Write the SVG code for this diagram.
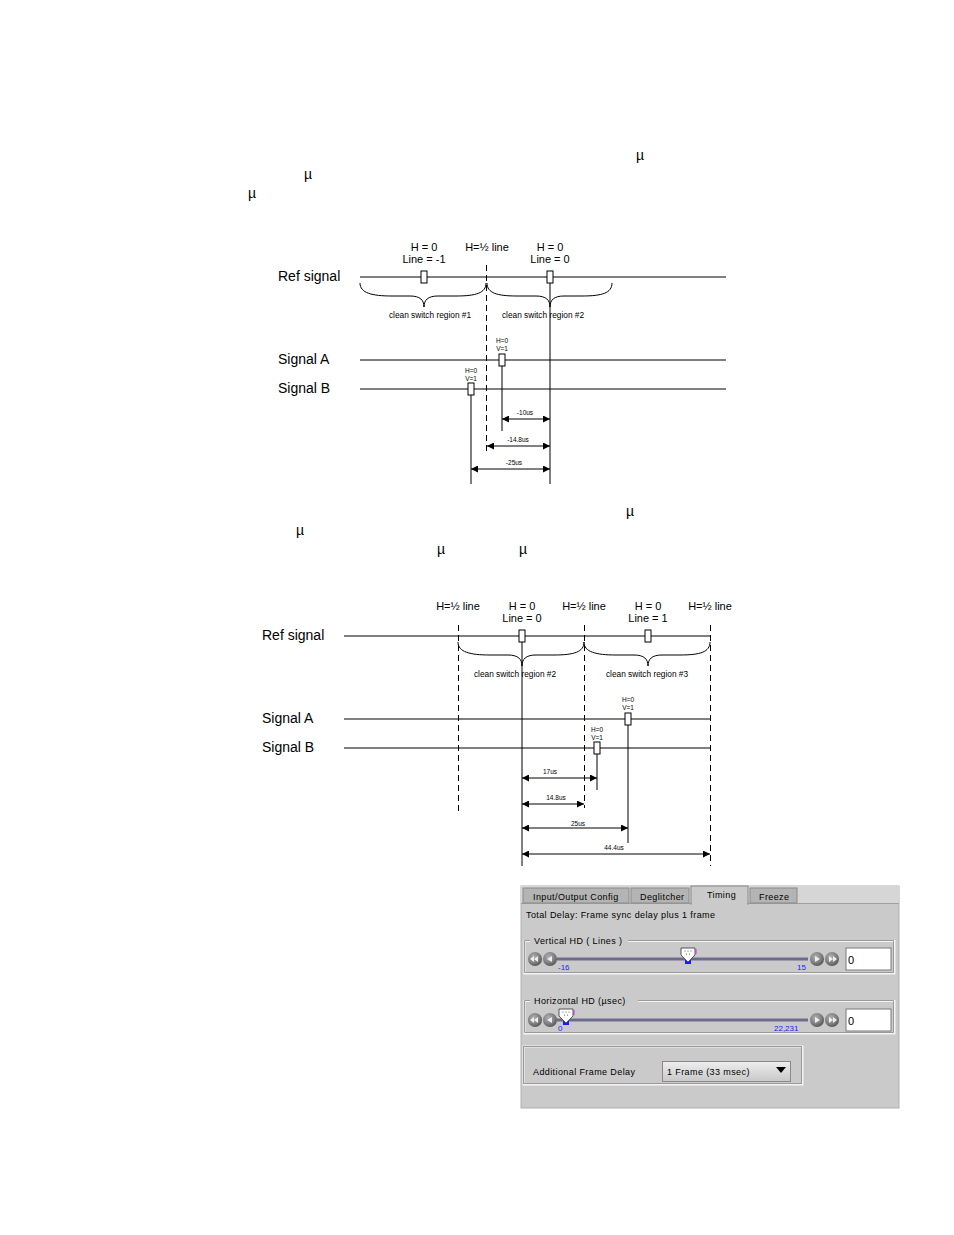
<svg xmlns="http://www.w3.org/2000/svg" width="954" height="1235" viewBox="0 0 954 1235">
<defs>
<marker id="ah" viewBox="0 0 10 10" refX="10" refY="5" markerWidth="9" markerHeight="7" markerUnits="userSpaceOnUse" orient="auto-start-reverse"><path d="M0,0 L10,5 L0,10 Z" fill="#000"/></marker>
<radialGradient id="btn" cx="0.4" cy="0.35" r="0.7"><stop offset="0" stop-color="#b0b0b0"/><stop offset="0.6" stop-color="#808080"/><stop offset="1" stop-color="#505050"/></radialGradient>
<linearGradient id="dd" x1="0" y1="0" x2="0" y2="1"><stop offset="0" stop-color="#eeeeee"/><stop offset="1" stop-color="#c8c8c8"/></linearGradient>
</defs>
<style>
.lbl{font-family:"Liberation Sans",Arial,sans-serif;font-size:14px;fill:#000}
.hd{font-family:"Liberation Sans",Arial,sans-serif;font-size:11px;fill:#000;text-anchor:middle}
.sm{font-family:"Liberation Sans",Arial,sans-serif;font-size:6.5px;fill:#000;text-anchor:middle}
.cs{font-family:"Liberation Sans",Arial,sans-serif;font-size:8.3px;fill:#000;text-anchor:middle}
.mu{font-family:"Liberation Sans",Arial,sans-serif;font-size:14px;fill:#000}
.ln{stroke:#000;stroke-width:1;fill:none}
.ds{stroke:#000;stroke-width:1;fill:none;stroke-dasharray:6,4}
.br{stroke:#000;stroke-width:1;fill:none}
.bx{fill:#fff;stroke:#000;stroke-width:1}
.ar{stroke:#000;stroke-width:1;fill:none;marker-start:url(#ah);marker-end:url(#ah)}
.ui{font-family:"Liberation Sans",Arial,sans-serif;font-size:9px;fill:#000;letter-spacing:0.4px}
.bl{font-family:"Liberation Sans",Arial,sans-serif;font-size:8px;fill:#1a1aff}
</style>
<rect width="954" height="1235" fill="#fff"/>

<g id="mu-symbols">
<text class="mu" x="636" y="160">µ</text>
<text class="mu" x="304" y="179">µ</text>
<text class="mu" x="248" y="198">µ</text>
<text class="mu" x="626" y="516">µ</text>
<text class="mu" x="296" y="535">µ</text>
<text class="mu" x="437" y="554">µ</text>
<text class="mu" x="519" y="554">µ</text>
</g>

<!-- Diagram 1 -->
<g id="d1-ref">
<text class="lbl" x="278" y="281">Ref signal</text>
<line class="ln" x1="360" y1="277" x2="726" y2="277"/>
<rect class="bx" x="421" y="271" width="6" height="12"/>
<rect class="bx" x="547" y="271" width="6" height="12"/>
<text class="hd" x="424" y="251">H = 0</text>
<text class="hd" x="424" y="263">Line = -1</text>
<text class="hd" x="487" y="251">H=½ line</text>
<text class="hd" x="550" y="251">H = 0</text>
<text class="hd" x="550" y="263">Line = 0</text>
</g>
<g id="d1-braces">
<path class="br" d="M360,283 C360,293 372,296 392,296 L410,296 C420,296 424,300 424,307 C424,300 428,296 438,296 L456,296 C476,296 486,293 486,283"/>
<path class="br" d="M487,283 C487,293 497,296 517,296 L536,296 C546,296 550,300 550,307 C550,300 554,296 564,296 L582,296 C602,296 612,293 612,283"/>
<text class="cs" x="430" y="318">clean switch region #1</text>
<text class="cs" x="543" y="318">clean switch region #2</text>
</g>
<g id="d1-sigA">
<text class="lbl" x="278" y="364">Signal A</text>
<line class="ln" x1="360" y1="360" x2="726" y2="360"/>
<rect class="bx" x="499" y="354" width="6" height="12"/>
<text class="sm" x="502" y="343">H=0</text>
<text class="sm" x="502" y="351">V=1</text>
</g>
<g id="d1-sigB">
<text class="lbl" x="278" y="393">Signal B</text>
<line class="ln" x1="360" y1="389" x2="726" y2="389"/>
<rect class="bx" x="468" y="383" width="6" height="12"/>
<text class="sm" x="471" y="373">H=0</text>
<text class="sm" x="471" y="381">V=1</text>
</g>
<g id="d1-connectors">
<line class="ds" x1="486.5" y1="265" x2="486.5" y2="455"/>
<line class="ln" x1="550" y1="283" x2="550" y2="484"/>
<line class="ln" x1="502" y1="366" x2="502" y2="431"/>
<line class="ln" x1="471" y1="395" x2="471" y2="484"/>
<line class="ar" x1="502" y1="419" x2="550" y2="419"/>
<line class="ar" x1="487" y1="446" x2="550" y2="446"/>
<line class="ar" x1="471" y1="469" x2="550" y2="469"/>
<text class="sm" x="525" y="415">-10us</text>
<text class="sm" x="518" y="442">-14.8us</text>
<text class="sm" x="514" y="465">-25us</text>
</g>

<!-- Diagram 2 -->
<g id="d2-ref">
<text class="lbl" x="262" y="640">Ref signal</text>
<line class="ln" x1="344" y1="636" x2="710" y2="636"/>
<rect class="bx" x="519" y="630" width="6" height="12"/>
<rect class="bx" x="645" y="630" width="6" height="12"/>
<text class="hd" x="458" y="610">H=½ line</text>
<text class="hd" x="522" y="610">H = 0</text>
<text class="hd" x="522" y="622">Line = 0</text>
<text class="hd" x="584" y="610">H=½ line</text>
<text class="hd" x="648" y="610">H = 0</text>
<text class="hd" x="648" y="622">Line = 1</text>
<text class="hd" x="710" y="610">H=½ line</text>
</g>
<g id="d2-braces">
<path class="br" d="M458,642 C458,652 470,655 490,655 L508,655 C518,655 522,659 522,666 C522,659 526,655 536,655 L554,655 C574,655 584,652 584,642"/>
<path class="br" d="M584,642 C584,652 596,655 616,655 L634,655 C644,655 648,659 648,666 C648,659 652,655 662,655 L680,655 C700,655 710,652 710,642"/>
<text class="cs" x="515" y="677">clean switch region #2</text>
<text class="cs" x="647" y="677">clean switch region #3</text>
</g>
<g id="d2-sigA">
<text class="lbl" x="262" y="723">Signal A</text>
<line class="ln" x1="344" y1="719" x2="710" y2="719"/>
<rect class="bx" x="625" y="713" width="6" height="12"/>
<text class="sm" x="628" y="702">H=0</text>
<text class="sm" x="628" y="710">V=1</text>
</g>
<g id="d2-sigB">
<text class="lbl" x="262" y="752">Signal B</text>
<line class="ln" x1="344" y1="748" x2="710" y2="748"/>
<rect class="bx" x="594" y="742" width="6" height="12"/>
<text class="sm" x="597" y="732">H=0</text>
<text class="sm" x="597" y="740">V=1</text>
</g>
<g id="d2-connectors">
<line class="ds" x1="458.5" y1="625" x2="458.5" y2="813"/>
<line class="ds" x1="584.5" y1="625" x2="584.5" y2="808"/>
<line class="ds" x1="710.5" y1="625" x2="710.5" y2="866"/>
<line class="ln" x1="522" y1="642" x2="522" y2="866"/>
<line class="ln" x1="597" y1="754" x2="597" y2="790"/>
<line class="ln" x1="628" y1="725" x2="628" y2="843"/>
<line class="ar" x1="522" y1="778" x2="597" y2="778"/>
<line class="ar" x1="522" y1="804" x2="584" y2="804"/>
<line class="ar" x1="522" y1="828" x2="628" y2="828"/>
<line class="ar" x1="522" y1="854" x2="710" y2="854"/>
<text class="sm" x="550" y="774">17us</text>
<text class="sm" x="556" y="800">14.8us</text>
<text class="sm" x="578" y="826">25us</text>
<text class="sm" x="614" y="850">44.4us</text>
</g>

<!-- Panel screenshot -->
<g id="panel">
<rect x="521" y="886" width="378" height="222" fill="#cacaca" stroke="#b0b0b0"/>
<rect x="521" y="886" width="378" height="17" fill="#d6d6d6"/>
<line x1="521" y1="903.5" x2="899" y2="903.5" stroke="#a0a0a0"/>
<g id="tab-io"><rect x="523" y="888" width="106" height="15" fill="#b4b4b4" stroke="#8a8a8a"/><text class="ui" x="533" y="900">Input/Output Config</text></g>
<g id="tab-deg"><rect x="631" y="888" width="58" height="15" fill="#b4b4b4" stroke="#8a8a8a"/><text class="ui" x="640" y="900">Deglitcher</text></g>
<g id="tab-timing"><rect x="691" y="886" width="57" height="18" fill="#cacaca" stroke="#8a8a8a"/><rect x="692" y="902" width="55" height="3" fill="#cacaca"/><text class="ui" x="707" y="898">Timing</text></g>
<g id="tab-freeze"><rect x="750" y="888" width="47" height="15" fill="#b4b4b4" stroke="#8a8a8a"/><text class="ui" x="759" y="900">Freeze</text></g>
<text class="ui" x="526" y="918" font-size="8.5">Total Delay: Frame sync delay plus 1 frame</text>

<g id="vert-group">
<path d="M530,941 L524.5,941 L524.5,973.5 L894.5,973.5 L894.5,941 L628,941" fill="none" stroke="#f4f4f4" stroke-width="2"/>
<path d="M530,940.5 L524.5,940.5 L524.5,972.5 L893.5,972.5 L893.5,940.5 L628,940.5" fill="none" stroke="#9a9a9a"/>
<text class="ui" x="534" y="944">Vertical HD ( Lines )</text>
<circle cx="535" cy="959" r="7" fill="url(#btn)"/><path d="M538,956 L534,959 L538,962 Z M534,956 L530,959 L534,962 Z" fill="#eee"/>
<circle cx="550" cy="959" r="7" fill="url(#btn)"/><path d="M552,956 L547,959 L552,962 Z" fill="#eee"/>
<rect x="557" y="957.5" width="251" height="3" fill="#6c6c8c"/>
<text class="bl" x="558" y="970">-16</text>
<text class="bl" x="797" y="970">15</text>
<rect x="685" y="958" width="6" height="6" fill="#1a1aff"/>
<path d="M681,948 L695,948 L695,955 L688,962 L681,955 Z" fill="#fff" stroke="#555"/>
<circle cx="685" cy="951" r="0.6" fill="#555"/><circle cx="688" cy="951" r="0.6" fill="#555"/><circle cx="691" cy="951" r="0.6" fill="#555"/><circle cx="686.5" cy="954" r="0.6" fill="#555"/><circle cx="689.5" cy="954" r="0.6" fill="#555"/>
<line x1="696" y1="949" x2="696" y2="954" stroke="#e020e0"/>
<circle cx="817" cy="959" r="7" fill="url(#btn)"/><path d="M815,956 L820,959 L815,962 Z" fill="#eee"/>
<circle cx="832" cy="959" r="7" fill="url(#btn)"/><path d="M829,956 L833,959 L829,962 Z M833,956 L837,959 L833,962 Z" fill="#eee"/>
<rect x="846" y="948" width="45" height="22" fill="#fff" stroke="#7a7a7a"/>
<text font-family="Liberation Sans,Arial,sans-serif" font-size="11" x="848" y="964">0</text>
</g>

<g id="horiz-group">
<path d="M530,1001 L524.5,1001 L524.5,1033.5 L894.5,1033.5 L894.5,1001 L638,1001" fill="none" stroke="#f4f4f4" stroke-width="2"/>
<path d="M530,1000.5 L524.5,1000.5 L524.5,1032.5 L893.5,1032.5 L893.5,1000.5 L638,1000.5" fill="none" stroke="#9a9a9a"/>
<text class="ui" x="534" y="1004">Horizontal HD (µsec)</text>
<circle cx="535" cy="1020" r="7" fill="url(#btn)"/><path d="M538,1017 L534,1020 L538,1023 Z M534,1017 L530,1020 L534,1023 Z" fill="#eee"/>
<circle cx="550" cy="1020" r="7" fill="url(#btn)"/><path d="M552,1017 L547,1020 L552,1023 Z" fill="#eee"/>
<rect x="557" y="1018.5" width="251" height="3" fill="#6c6c8c"/>
<text class="bl" x="558" y="1031">0</text>
<text class="bl" x="774" y="1031">22,231</text>
<rect x="563" y="1019" width="6" height="6" fill="#1a1aff"/>
<path d="M559,1009 L573,1009 L573,1016 L566,1023 L559,1016 Z" fill="#fff" stroke="#555"/>
<circle cx="563" cy="1012" r="0.6" fill="#555"/><circle cx="566" cy="1012" r="0.6" fill="#555"/><circle cx="569" cy="1012" r="0.6" fill="#555"/><circle cx="564.5" cy="1015" r="0.6" fill="#555"/><circle cx="567.5" cy="1015" r="0.6" fill="#555"/>
<line x1="574" y1="1010" x2="574" y2="1015" stroke="#e020e0"/>
<circle cx="817" cy="1020" r="7" fill="url(#btn)"/><path d="M815,1017 L820,1020 L815,1023 Z" fill="#eee"/>
<circle cx="832" cy="1020" r="7" fill="url(#btn)"/><path d="M829,1017 L833,1020 L829,1023 Z M833,1017 L837,1020 L833,1023 Z" fill="#eee"/>
<rect x="846" y="1009" width="45" height="22" fill="#fff" stroke="#7a7a7a"/>
<text font-family="Liberation Sans,Arial,sans-serif" font-size="11" x="848" y="1025">0</text>
</g>

<g id="frame-delay">
<rect x="523.5" y="1046.5" width="279" height="38" fill="none" stroke="#f4f4f4" stroke-width="2"/>
<rect x="523.5" y="1046.5" width="278" height="37" fill="none" stroke="#9a9a9a"/>
<text class="ui" x="533" y="1075">Additional Frame Delay</text>
<rect x="662.5" y="1061.5" width="128" height="20" fill="url(#dd)" stroke="#8a8a8a"/>
<text class="ui" x="667" y="1075">1 Frame (33 msec)</text>
<path d="M776,1067 L786,1067 L781,1073 Z" fill="#000"/>
</g>
</g>
</svg>
